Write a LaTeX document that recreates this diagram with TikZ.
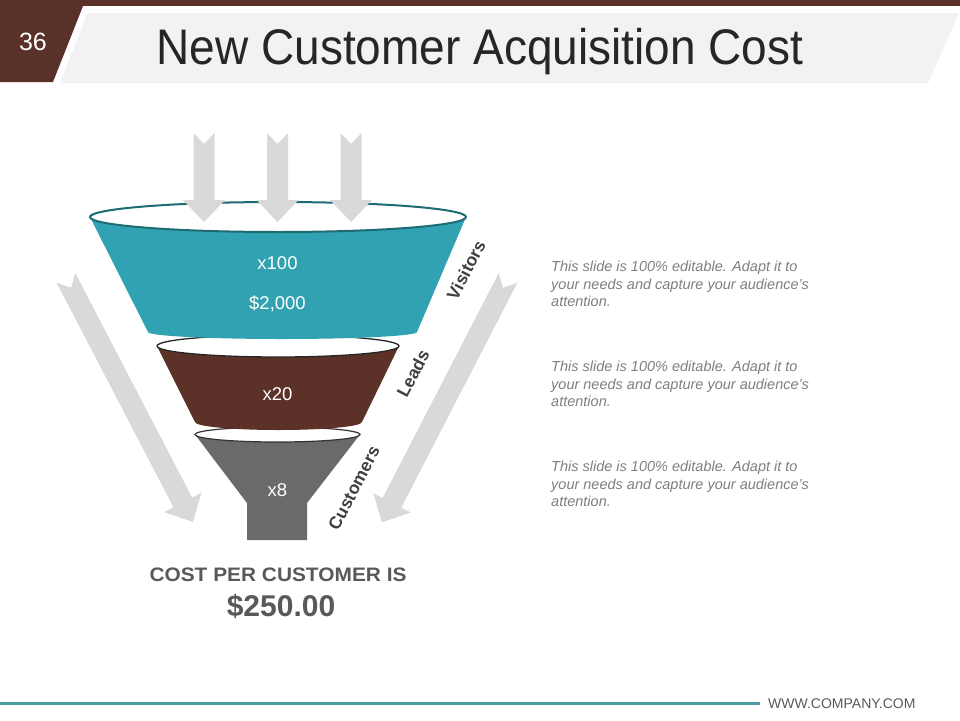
\documentclass[tikz,border=0pt]{standalone}
\usepackage{fontspec}
\setmainfont{Liberation Sans}
\definecolor{brownA}{HTML}{5A3129}
\definecolor{bandgray}{HTML}{F2F2F2}
\definecolor{titlec}{HTML}{262626}
\definecolor{tealA}{HTML}{31A2B2}
\definecolor{tealD}{HTML}{1E6B74}
\definecolor{brownB}{HTML}{5C3228}
\definecolor{grayB}{HTML}{6A6A6A}
\definecolor{arrowgray}{HTML}{D9D9D9}
\definecolor{labelgray}{HTML}{404040}
\definecolor{textgray}{HTML}{7F7F7F}
\definecolor{costgray}{HTML}{595959}
\definecolor{footteal}{HTML}{4A9BA3}
\newcommand\slidearrow[3]{%
  \begin{scope}[shift={#1}, rotate=#2]
    \fill[arrowgray] (0,-10.5) -- ({#3-22},-10.5) -- ({#3-22},-21) -- (#3,0) -- ({#3-22},21) -- ({#3-22},10.5) -- (0,10.5) -- (11,0) -- cycle;
  \end{scope}}
\begin{document}
\begin{tikzpicture}[x=1pt,y=-1pt,
  numtxt/.style={text=white, font=\fontsize{18.5}{22}\selectfont, inner sep=0pt, anchor=base},
  lbl/.style={text=labelgray, font=\fontsize{17.5}{20}\selectfont\bfseries, inner sep=0pt},
  note/.style={text=textgray, font=\fontsize{14.5}{17.5}\selectfont\itshape, inner sep=0pt, anchor=base west}]
\useasboundingbox (0,0) rectangle (960,720);
\fill[white] (0,0) rectangle (960,720);
% header
\fill[brownA] (0,0) rectangle (960,6);
\fill[brownA] (0,0) -- (85.4,0) -- (53,82) -- (0,82) -- cycle;
\fill[bandgray] (87.6,13) -- (959,13) -- (928,83) -- (60,83) -- cycle;
\node[text=white, font=\fontsize{25}{28}\selectfont, inner sep=0pt, anchor=base] (num) at (33,50) {36};
\node[text=titlec, font=\fontsize{50}{56}\selectfont, inner sep=0pt, anchor=base, xscale=0.92] (title) at (480,64) {New Customer Acquisition Cost};
% diagonal arrows
\slidearrow{(66,278)}{-62.5}{275}
\slidearrow{(508,278)}{-117.3}{275}
% gray segment
\fill[grayB] (195,434.5) -- (247,503) -- (247,540) -- (307,540) -- (307,503) -- (360,434.5) -- cycle;
\draw[black!80, fill=white, line width=1.2pt] (277.5,434.5) ellipse [x radius=82.5pt, y radius=7.5pt];
% brown segment
\fill[brownB] (157,346) -- (195,422) arc[start angle=180, end angle=360, x radius=83.5pt, y radius=8pt] -- (399,346) -- cycle;
\draw[black!85, fill=white, line width=1.3pt] (278,346) ellipse [x radius=121pt, y radius=11pt];
% teal segment
\fill[tealA] (90,217) -- (148,332) arc[start angle=180, end angle=360, x radius=134.5pt, y radius=7pt] -- (466,217) -- cycle;
\draw[tealD, fill=white, line width=2pt] (278,217) ellipse [x radius=188pt, y radius=15pt];
% top arrows
\slidearrow{(204,133)}{-90}{89}
\slidearrow{(277.5,133)}{-90}{89}
\slidearrow{(351,133)}{-90}{89}
% funnel texts
\node[numtxt] (v1) at (277.5,269) {x100};
\node[numtxt] (v2) at (277.5,309) {\$2,000};
\node[numtxt] (v3) at (277.5,400) {x20};
\node[numtxt] (v4) at (277.5,496) {x8};
% labels
\node[lbl] (visitors) at (466,270) {\rotatebox{62.5}{Visitors}};
\node[lbl] (leads) at (413,373.5) {\rotatebox{62.5}{Leads}};
\node[lbl] (customers) at (354,488) {\rotatebox{62.5}{Customers}};
% notes
\node[note] (n1) at (551,271.7) {\parbox[t]{320pt}{\raggedright This slide is 100\% editable. Adapt it to\\your needs and capture your audience’s\\attention.}};
\node[note] (n2) at (551,371.7) {\parbox[t]{320pt}{\raggedright This slide is 100\% editable. Adapt it to\\your needs and capture your audience’s\\attention.}};
\node[note] (n3) at (551,471.7) {\parbox[t]{320pt}{\raggedright This slide is 100\% editable. Adapt it to\\your needs and capture your audience’s\\attention.}};
% cost
\node[text=costgray, font=\fontsize{19.5}{22}\selectfont\bfseries, inner sep=0pt, anchor=base, xscale=1.07] (cost) at (278,581) {COST PER CUSTOMER IS};
\node[text=costgray, font=\fontsize{30}{34}\selectfont\bfseries, inner sep=0pt, anchor=base] (amount) at (281,616) {\$250.00};
% footer
\draw[footteal, line width=3pt] (0,703) -- (760,703);
\node[text=costgray, font=\fontsize{14}{16}\selectfont, inner sep=0pt, anchor=base west] (site) at (768,708) {WWW.COMPANY.COM};
\end{tikzpicture}
\end{document}
